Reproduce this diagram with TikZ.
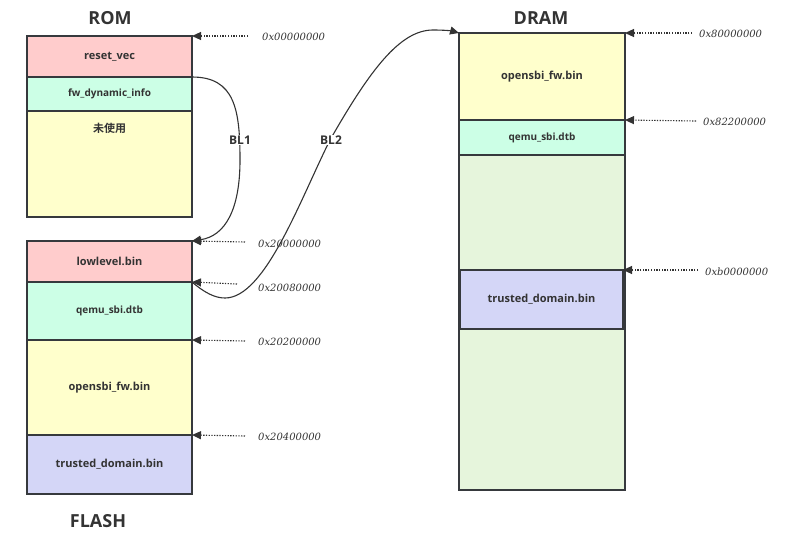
\documentclass[tikz,border=0pt]{standalone}
\usepackage{fontspec}
\setmainfont{Open Sans}[BoldFont={Open Sans Bold}]
\newfontfamily\cjkfont{Noto Sans CJK SC}[BoldFont={Noto Sans CJK SC Bold}]
\newfontfamily\addrfont{DejaVu Serif Italic}
\usetikzlibrary{arrows.meta}
\definecolor{edge}{HTML}{36393D}
\definecolor{txt}{HTML}{333333}
\definecolor{cpink}{HTML}{FFCCCC}
\definecolor{cmint}{HTML}{CCFFE6}
\definecolor{cyell}{HTML}{FFFFCC}
\definecolor{cblue}{HTML}{D4D6F7}
\definecolor{cgreen}{HTML}{E6F5DC}
\tikzset{
  blk/.style={draw=edge, line width=1.4pt, inner sep=0pt, outer sep=0pt, anchor=north west,
    text=txt, font=\fontsize{11}{13}\selectfont\bfseries, align=center},
  small/.style={font=\fontsize{10}{12}\selectfont\bfseries},
  title/.style={text=txt, font=\fontsize{18}{20}\selectfont\bfseries},
  addr/.style={text=txt, anchor=west, inner sep=0pt, font=\fontsize{10}{12}\selectfont\addrfont},
  ptr/.style={draw=txt, line width=1.1pt, dash pattern=on 1.3pt off 1.4pt, -{Triangle[length=9pt,width=8pt]}},
  bl/.style={draw=txt, line width=1.1pt, -{Triangle[length=9pt,width=8pt]}},
  bllabel/.style={fill=white, text=txt, inner sep=1pt, font=\fontsize{12}{14}\selectfont\bfseries}
}
\begin{document}
\begin{tikzpicture}[x=1pt,y=-1pt]
\useasboundingbox (0,0) rectangle (794,544);
% titles
\node[title] (romt) at (110,18) {ROM};
\node[title] (flasht) at (98,521) {FLASH};
\node[title] (dramt) at (541,18) {DRAM};
% ROM
\node[blk, fill=cpink, minimum width=165pt, minimum height=41pt] (reset) at (27,36) {reset\_vec};
\node[blk, small, fill=cmint, minimum width=165pt, minimum height=34pt] (fwdyn) at (27,77) {fw\_dynamic\_info};
\node[blk, fill=cyell, minimum width=165pt, minimum height=106pt,
  label={[text=txt, font=\fontsize{11}{13}\cjkfont\bfseries, anchor=north, yshift=-9pt]north:未使用}] (unused) at (27,111) {};
% FLASH
\node[blk, fill=cpink, minimum width=165pt, minimum height=41pt] (low) at (27,241) {lowlevel.bin};
\node[blk, small, fill=cmint, minimum width=165pt, minimum height=58pt] (fqemu) at (27,282) {qemu\_sbi.dtb};
\node[blk, fill=cyell, minimum width=165pt, minimum height=95pt] (fopen) at (27,340) {opensbi\_fw.bin};
\node[blk, fill=cblue, minimum width=165pt, minimum height=59pt] (ftrust) at (27,435) {trusted\_domain.bin};
% DRAM
\node[blk, fill=cgreen, minimum width=166pt, minimum height=457pt] (dram) at (459,33) {};
\node[blk, fill=cyell, minimum width=166pt, minimum height=87pt] (dopen) at (459,33) {opensbi\_fw.bin};
\node[blk, small, fill=cmint, minimum width=166pt, minimum height=35pt] (dqemu) at (459,120) {qemu\_sbi.dtb};
\node[blk, fill=cblue, minimum width=163pt, minimum height=59pt] (dtrust) at (460,270) {trusted\_domain.bin};
% address labels
\node[addr] (a0) at (262,37) {0x00000000};
\node[addr] (a1) at (258,244) {0x20000000};
\node[addr] (a2) at (258,288) {0x20080000};
\node[addr] (a3) at (258,342) {0x20200000};
\node[addr] (a4) at (258,437) {0x20400000};
\node[addr] (a5) at (699,34) {0x80000000};
\node[addr] (a6) at (703,122) {0x82200000};
\node[addr] (a7) at (705,272) {0xb0000000};
% pointer arrows
\coordinate (p0) at (248,36);
\coordinate (p1) at (245,242);
\coordinate (p2) at (237,284);
\coordinate (p3) at (245,341);
\coordinate (p4) at (245,436);
\coordinate (p5) at (692,33);
\coordinate (p6) at (696,121);
\coordinate (p7) at (698,270);
\draw[ptr] (p0) -- (reset.north east);
\draw[ptr] (p1) -- (low.north east);
\draw[ptr] (p2) -- (fqemu.north east);
\draw[ptr] (p3) -- (fopen.north east);
\draw[ptr] (p4) -- (ftrust.north east);
\draw[ptr] (p5) -- (dopen.north east);
\draw[ptr] (p6) -- (dqemu.north east);
\draw[ptr] (p7) -- (dtrust.north east);
% BL1
\draw[bl] (fwdyn.north east) .. controls (235,77) and (240,110) .. (240,160)
  .. controls (240,210) and (225,236) .. (low.north east);
\node[bllabel] (bl1) at (240,140) {BL1};
% BL2
\draw[bl] (fqemu.north east) .. controls (205,293) and (215,298) .. (225,298)
  .. controls (265,298) and (300,200) .. (330,140)
  .. controls (370,70) and (400,30) .. (433,30)
  .. controls (445,30) and (452,31) .. (dopen.north west);
\node[bllabel] (bl2) at (331,140) {BL2};
\end{tikzpicture}
\end{document}
